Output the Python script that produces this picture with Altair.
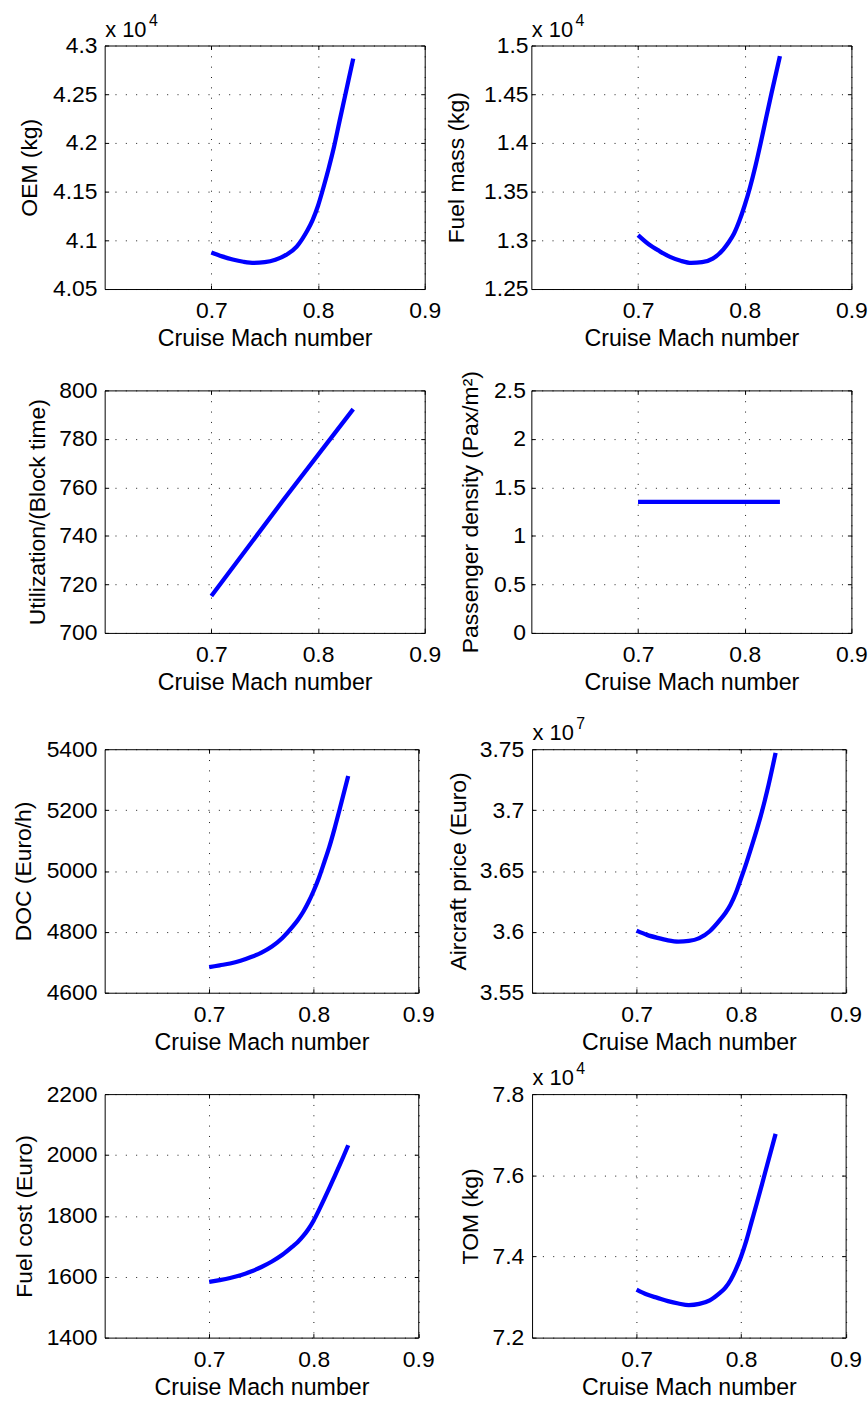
import altair as alt
import pandas as pd

FONT = "Liberation Sans"
BLUE = "#0000ff"

# ---------------- data ----------------
MACH = [0.700, 0.710, 0.720, 0.730, 0.740, 0.750, 0.760, 0.770, 0.780, 0.785,
        0.790, 0.795, 0.800, 0.805, 0.810, 0.815, 0.820, 0.825, 0.833]

OEM_KG = [40875, 40835, 40803, 40780, 40768, 40775, 40800, 40850, 40935, 41010,
          41100, 41210, 41355, 41540, 41740, 41960, 42215, 42465, 42865]

FUEL_MASS_KG = [13054, 12960, 12890, 12830, 12790, 12768, 12775, 12812, 12908, 12980,
                13070, 13200, 13360, 13545, 13760, 14000, 14255, 14505, 14891]

MACH_UTIL = [0.700, 0.7675, 0.833]
UTILIZATION = [715.2, 754.8, 792.3]

MACH_PAX = [0.700, 0.833]
PAX_DENSITY = [1.35, 1.35]

DOC_EURO_H = [4684, 4690, 4696, 4705, 4717, 4732, 4752, 4780, 4818, 4840,
              4866, 4898, 4935, 4978, 5028, 5080, 5140, 5205, 5312]

PRICE_EURO = [36010000, 35975000, 35950000, 35930000, 35920000, 35925000, 35948000,
              36005000, 36100000, 36155000, 36225000, 36320000, 36440000, 36565000,
              36700000, 36840000, 36990000, 37160000, 37470000]

FUEL_COST_EURO = [1583, 1589, 1596, 1605, 1617, 1632, 1650, 1672, 1700, 1715,
                  1734, 1757, 1785, 1819, 1855, 1892, 1930, 1968, 2032]

TOM_KG = [73183, 73060, 72980, 72900, 72840, 72800, 72830, 72920, 73110, 73230,
          73420, 73680, 74000, 74390, 74850, 75310, 75780, 76260, 77020]

X_TICKS = [0.7, 0.8, 0.9]
X_TITLE = "Cruise Mach number"

Y_OEM = [40500, 41000, 41500, 42000, 42500, 43000]
Y_FUEL = [12500, 13000, 13500, 14000, 14500, 15000]
Y_UTIL = [700, 720, 740, 760, 780, 800]
Y_PAX = [0, 0.5, 1, 1.5, 2, 2.5]
Y_DOC = [4600, 4800, 5000, 5200, 5400]
Y_PRICE = [35500000, 36000000, 36500000, 37000000, 37500000]
Y_FCOST = [1400, 1600, 1800, 2000, 2200]
Y_TOM = [72000, 74000, 76000, 78000]

FMT_INT = "format(datum.value, 'd')"
FMT_E4 = "format(datum.value / 10000, '.3~r')"
FMT_E7 = "format(datum.value / 10000000, '.3~r')"
FMT_G = "format(datum.value, '~g')"

GRID = dict(gridColor="#000000", gridDash=[1, 9.4], gridWidth=1, gridOpacity=0.9)


def panel(mach, vals, ytitle, yticks, label_expr, w, h, title_base, lab_pad, exp=None):
    df = pd.DataFrame({"mach": mach, "val": vals})
    xs = alt.Scale(domain=[0.6, 0.9], nice=False, zero=False)
    ys = alt.Scale(domain=[yticks[0], yticks[-1]], nice=False, zero=False)

    x_bottom = alt.Axis(orient="bottom", values=X_TICKS, format=".1f", labelFlush=False,
                        offset=-4, tickSize=4, domain=False, labelPadding=29,
                        labelBaseline="alphabetic", grid=True, title=X_TITLE,
                        titleX=w / 2, titleY=61, titleAlign="center", titleFontSize=23.3,
                        titleBaseline="alphabetic", titleAngle=0, **GRID)
    y_left = alt.Axis(orient="left", values=yticks, labelExpr=label_expr, offset=-4,
                      tickSize=4, domain=False, labelPadding=lab_pad, grid=True,
                      title=ytitle, titleX=title_base - 4, titleY=h / 2, titleAngle=270,
                      titleAlign="center", titleBaseline="alphabetic", **GRID)
    main = alt.Chart(df).mark_line(color=BLUE, strokeWidth=4.3, interpolate="monotone").encode(
        x=alt.X("mach:Q", scale=xs, axis=x_bottom),
        y=alt.Y("val:Q", scale=ys, axis=y_left),
    )

    if exp:
        x_top = alt.Axis(orient="top", values=X_TICKS, labels=False, offset=-4, tickSize=4,
                         domain=False, grid=False, title="x 10", titleX=0, titleY=-13.3,
                         titleAlign="left", titleBaseline="alphabetic", titleAngle=0,
                         titleFontSize=22)
        y_right = alt.Axis(orient="right", values=yticks, labels=False, offset=-4, tickSize=4,
                           domain=False, grid=False, title=exp, titleX=44 - (w - 4),
                           titleY=-20.5, titleAlign="left", titleBaseline="alphabetic",
                           titleAngle=0, titleFontSize=16)
    else:
        x_top = alt.Axis(orient="top", values=X_TICKS, labels=False, offset=-4, tickSize=4,
                         domain=False, grid=False, title=None)
        y_right = alt.Axis(orient="right", values=yticks, labels=False, offset=-4, tickSize=4,
                           domain=False, grid=False, title=None)

    ticks = alt.Chart(df).mark_line(opacity=0).encode(
        x=alt.X("mach:Q", scale=xs, axis=x_top),
        y=alt.Y("val:Q", scale=ys, axis=y_right),
    )
    return alt.layer(main, ticks).resolve_axis(x="independent", y="independent").properties(
        width=w, height=h)


W1, W3 = 322, 315.5
H = 245

p1L = panel(MACH, OEM_KG, "OEM (kg)", Y_OEM, FMT_E4, W1, H, -68.4, 7.7, "4")
p1R = panel(MACH, FUEL_MASS_KG, "Fuel mass (kg)", Y_FUEL, FMT_E4, W1, H, -68.3, 3.3, "4")
p2L = panel(MACH_UTIL, UTILIZATION, "Utilization/(Block time)", Y_UTIL, FMT_INT, W1, 244, -61, 7.7)
p2R = panel(MACH_PAX, PAX_DENSITY, "Passenger density (Pax/m²)", Y_PAX, FMT_G, W1, 244, -54, 6)
p3L = panel(MACH, DOC_EURO_H, "DOC (Euro/h)", Y_DOC, FMT_INT, W3, H, -75, 7.7)
p3R = panel(MACH, PRICE_EURO, "Aircraft price (Euro)", Y_PRICE, FMT_E7, W3, H, -67.3, 8.3, "7")
p4L = panel(MACH, FUEL_COST_EURO, "Fuel cost (Euro)", Y_FCOST, FMT_INT, W3, H, -74, 7.7)
p4R = panel(MACH, TOM_KG, "TOM (kg)", Y_TOM, FMT_E4, W3, H, -55, 8.3, "4")

grid_a = alt.concat(p1L, p1R, p2L, p2R, columns=2,
                    spacing={"row": 102, "column": 107.3}, bounds="flush")
grid_b = alt.concat(p3L, p3R, p4L, p4R, columns=2,
                    spacing={"row": 102, "column": 114}, bounds="flush")

chart = alt.vconcat(grid_a, grid_b, spacing=21).properties(
    padding={"left": 11.3, "top": 7.5, "right": 0, "bottom": 0},
    background="white",
).configure_axis(
    labelFont=FONT, titleFont=FONT, labelFontSize=23, titleFontSize=23,
    labelColor="#000000", titleColor="#000000", tickColor="#000000",
    titleFontWeight="normal", tickWidth=1,
).configure_view(stroke="#000000", strokeWidth=1)

chart.save("out.html", embed_options={"renderer": "svg", "actions": False})
